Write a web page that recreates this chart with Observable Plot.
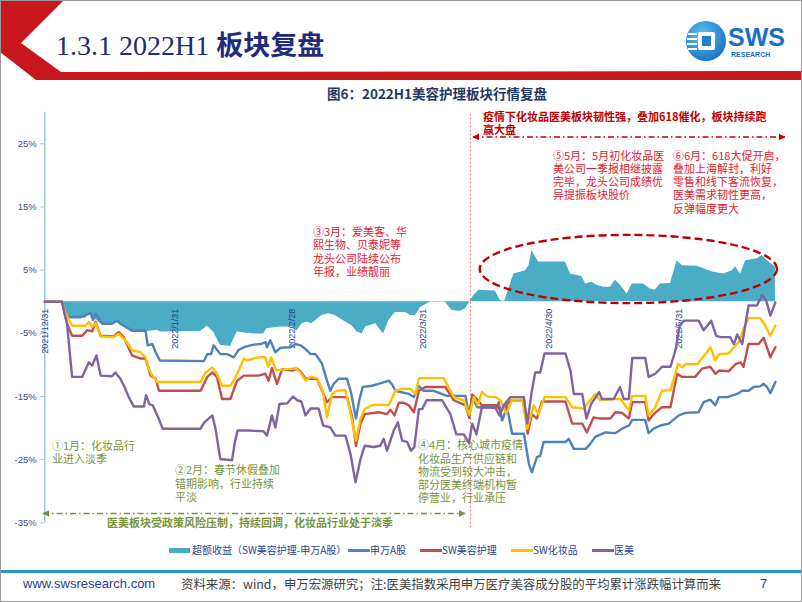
<!DOCTYPE html>
<html><head><meta charset="utf-8">
<script src="https://cdn.jsdelivr.net/npm/d3@7"></script>
<script src="https://cdn.jsdelivr.net/npm/@observablehq/plot@0.6"></script>
<style>
body{margin:0;background:#fff;}
#page{position:relative;width:802px;height:602px;overflow:hidden;background:#fff;font-family:"Liberation Sans",Arial,"Noto Sans CJK SC",sans-serif;}
.abs{position:absolute;white-space:nowrap;}
.ann{position:absolute;white-space:nowrap;font-family:"Noto Sans CJK SC",sans-serif;font-size:11px;line-height:13.3px;}
.red{color:#E5202E;}
.green{color:#77933C;}
.leg{position:absolute;top:543px;font-family:"Noto Sans CJK SC",sans-serif;font-size:10px;line-height:14px;color:#2B3F8C;white-space:nowrap;}
svg [aria-label="y-axis"] .tick line{stroke:#9DC3E6;}
svg [aria-label="y-axis tick"]{stroke:#9DC3E6;}
</style></head>
<body>
<div id="page">
  <svg class="abs" width="802" height="100" style="left:0;top:0">
    <polygon points="0,0 64,0 21,43 61,72 802,71 802,80 36,80 0,52" fill="#C8161D"/>
    <defs>
      <radialGradient id="lg" cx="40%" cy="35%" r="70%">
        <stop offset="0%" stop-color="#5FC3F0"/><stop offset="100%" stop-color="#1572C4"/>
      </radialGradient>
    </defs>
    <circle cx="706" cy="41" r="20" fill="url(#lg)"/>
    <rect x="698" y="32" width="17" height="18" rx="2" fill="#fff"/>
    <rect x="702" y="36" width="9" height="10" fill="#1E7FCC"/>
    <g stroke="#fff" stroke-width="2">
      <line x1="688" y1="34" x2="697" y2="34"/><line x1="687" y1="39" x2="697" y2="39"/>
      <line x1="687" y1="44" x2="697" y2="44"/><line x1="688" y1="49" x2="697" y2="49"/>
    </g>
    <text x="728" y="46" font-family="Liberation Sans, Arial" font-weight="bold" font-size="25" fill="#1B6EC2">SWS</text>
    <text x="731" y="57" font-family="Liberation Sans, Arial" font-weight="bold" font-size="7" fill="#1B6EC2">RESEARCH</text>
  </svg>
  <div class="abs" style="left:56px;top:27px;font-size:28px;line-height:34px;color:#1F2C7A;">
    <span style="font-family:'Liberation Serif','Times New Roman',serif;">1.3.1 2022H1 </span><span style="font-family:'Noto Sans CJK SC',sans-serif;font-weight:700;font-size:27px;">板块复盘</span>
  </div>
  <div class="abs" style="left:327px;top:84px;font-family:'Noto Sans CJK SC',sans-serif;font-weight:700;font-size:13.5px;line-height:18px;color:#1F3864;">图6：2022H1美容护理板块行情复盘</div>

  <div id="chart" class="abs" style="left:0;top:0"></div>

  <div class="ann" style="left:483px;top:110px;color:#C00000;font-weight:700;">疫情下化妆品医美板块韧性强，叠加618催化，板块持续跑<br>赢大盘</div>
  <div class="ann red" style="left:553px;top:148.5px;">⑤5月：5月初化妆品医<br>美公司一季报相继披露<br>完毕，龙头公司成绩优<br>异提振板块股价</div>
  <div class="ann red" style="left:673px;top:148.5px;">⑥6月：618大促开启，<br>叠加上海解封，利好<br>零售和线下客流恢复，<br>医美需求韧性更高，<br>反弹幅度更大</div>
  <div class="ann red" style="left:313px;top:225px;">③3月：爱美客、华<br>熙生物、贝泰妮等<br>龙头公司陆续公布<br>年报，业绩靓丽</div>
  <div class="ann green" style="left:52px;top:439px;">①1月：化妆品行<br>业进入淡季</div>
  <div class="ann green" style="left:175px;top:463.3px;">②2月：春节休假叠加<br>错期影响，行业持续<br>平淡</div>
  <div class="ann green" style="left:418px;top:438.3px;">④4月：核心城市疫情<br>化妆品生产供应链和<br>物流受到较大冲击，<br>部分医美终端机构暂<br>停营业，行业承压</div>
  <div class="ann green" style="left:107px;top:515.5px;font-weight:700;">医美板块受政策风险压制，持续回调，化妆品行业处于淡季</div>

  <div id="legend"></div>

  <div class="abs" style="left:0;top:570px;width:802px;height:3px;background:#2997C4;"></div>
  <div class="abs" style="left:23px;top:575px;font-size:13px;line-height:18px;color:#1F3C99;">www.swsresearch.com</div>
  <div class="abs" style="left:181px;top:575px;font-family:'Noto Sans CJK SC',sans-serif;font-size:12.4px;line-height:18px;color:#404040;">资料来源：wind，申万宏源研究；注:医美指数采用申万医疗美容成分股的平均累计涨跌幅计算而来</div>
  <div class="abs" style="left:760px;top:575px;font-size:13px;line-height:18px;color:#1F3C99;">7</div>
  <div class="abs" style="left:0;top:0;width:800px;height:600px;border:1px solid #9A9A9A;pointer-events:none;"></div>
</div>
<script>
// ---- data: [days since 2021-12-31, cumulative return %] ----
const excessReturn = [[0,0],[4.1,0],[5.3,-2.4],[9.7,-2.6],[10.5,-1.9],[13.3,-3.5],[16.0,-3.5],[17.2,-3.2],[21.2,-4.7],[24.4,-4.7],[26.8,-4.5],[27.6,-4.8],[37.1,-4.7],[38.7,-3.9],[40.2,-4.8],[41.8,-6.9],[44.2,-7.1],[45.8,-4.8],[49.8,-5.1],[52.1,-5.1],[52.9,-4.3],[56.1,-4.0],[58.9,-4.0],[60.1,-4.6],[61.3,-3.5],[62.5,-3.2],[63.6,-3.5],[66.0,-2.2],[67.6,-1.9],[69.2,-2.2],[71.6,-3.2],[73.2,-3.8],[74.4,-4.8],[75.6,-5.1],[76.4,-4.0],[78.8,-3.5],[80.7,-5.1],[81.9,-3.0],[83.5,-1.7],[85.9,-1.7],[87.1,-2.2],[88.3,-2.2],[89.5,-0.9],[91.8,-0.1],[95.4,-0.1],[97.0,-1.4],[99.0,-1.5],[100.2,-1.1],[101.4,0.2],[102.2,1.0],[103.4,1.8],[107.3,1.7],[108.5,0.2],[109.5,0.0],[110.9,2.8],[111.7,4.4],[114.5,4.9],[115.3,5.7],[116.0,8.1],[117.6,6.3],[124.0,6.3],[125.2,4.4],[127.9,4.0],[128.8,2.8],[130.3,3.1],[131.5,2.6],[133.1,2.3],[134.7,2.3],[135.9,3.4],[137.1,2.6],[138.7,1.2],[139.9,2.8],[142.6,2.8],[144.2,2.0],[145.4,1.8],[146.6,2.8],[149.0,2.9],[150.6,6.5],[151.8,5.7],[155.4,5.6],[157.0,5.2],[159.0,4.7],[161.7,4.4],[163.7,4.9],[164.5,5.5],[165.7,4.4],[166.9,6.5],[169.7,6.8],[170.8,7.3],[172.1,6.5],[174.0,5.5]];

const shenwanA = [[0,0],[4.1,0],[5.3,-2.2],[6.1,-2.45],[8.5,-2.45],[10.9,-1.8],[11.5,-2.9],[12.1,-1.8],[13.7,-3.5],[16.0,-3.5],[17.2,-3.0],[18.0,-3.5],[20.8,-4.6],[24.0,-4.6],[24.5,-6.9],[25.6,-6.7],[26.4,-8.0],[27.4,-9.3],[37.9,-9.4],[38.7,-8.3],[39.6,-8.3],[40.2,-6.9],[41.8,-8.3],[43.4,-8.3],[45.0,-8.8],[46.2,-7.6],[47.8,-7.1],[49.8,-6.8],[51.4,-6.7],[52.6,-6.4],[52.9,-7.2],[53.7,-6.1],[54.9,-8.0],[56.1,-7.3],[58.5,-7.2],[59.7,-6.7],[60.9,-6.9],[62.1,-7.5],[63.3,-8.3],[64.5,-8.3],[66.0,-9.8],[67.2,-12.5],[68.0,-14.1],[68.8,-13.0],[70.0,-12.2],[72.0,-12.2],[73.0,-14.6],[74.1,-18.5],[74.9,-15.6],[75.7,-13.5],[77.9,-13.3],[79.5,-13.0],[81.9,-12.5],[82.7,-13.1],[83.5,-14.1],[84.7,-14.3],[86.7,-14.6],[87.9,-15.1],[89.0,-13.3],[90.2,-14.1],[92.6,-14.1],[95.8,-14.9],[100.2,-14.9],[101.0,-18.0],[101.8,-15.1],[103.0,-16.7],[107.7,-16.7],[108.1,-15.9],[108.9,-18.8],[110.1,-16.7],[111.3,-20.9],[114.1,-20.9],[115.3,-25.7],[116.0,-27.0],[117.2,-24.6],[118.0,-24.4],[118.8,-22.2],[124.0,-22.2],[124.8,-21.7],[126.0,-23.3],[128.8,-23.3],[129.9,-22.5],[131.1,-21.4],[133.5,-20.7],[135.9,-20.8],[137.5,-20.1],[139.1,-19.6],[139.9,-18.7],[143.0,-18.7],[143.8,-20.8],[145.0,-20.1],[146.6,-19.6],[148.6,-19.3],[151.0,-18.0],[152.6,-17.6],[155.7,-17.5],[156.9,-15.9],[158.5,-15.5],[159.7,-16.4],[160.5,-15.1],[162.5,-15.1],[164.9,-14.6],[166.1,-14.1],[167.6,-14.1],[168.8,-13.5],[170.4,-13.4],[171.2,-13.0],[172.0,-13.5],[172.8,-14.5],[174.0,-12.7]];

const swBeauty = [[0,0],[4.1,0],[5.3,-3.5],[6.5,-5.4],[8.9,-5.4],[10.1,-4.5],[11.3,-4.7],[12.1,-3.2],[13.3,-5.4],[16.4,-5.5],[17.6,-4.8],[18.8,-5.6],[20.8,-8.5],[22.8,-9.0],[24.0,-9.0],[25.2,-11.7],[26.4,-12.2],[27.2,-14.1],[37.1,-14.1],[38.7,-11.9],[39.9,-11.2],[41.0,-11.9],[42.2,-15.4],[44.2,-15.4],[45.8,-12.5],[47.4,-11.7],[50.9,-11.7],[52.5,-11.4],[53.3,-12.5],[54.1,-10.5],[55.3,-13.0],[56.5,-10.7],[58.9,-10.9],[60.1,-10.6],[61.1,-11.2],[62.1,-12.2],[64.8,-12.2],[66.2,-14.3],[67.2,-15.9],[68.4,-15.1],[72.0,-15.1],[73.2,-18.3],[74.1,-22.8],[75.2,-19.3],[76.2,-17.8],[79.5,-17.5],[81.5,-17.8],[82.3,-17.1],[83.3,-18.0],[84.3,-16.0],[85.5,-16.0],[86.7,-16.4],[87.9,-17.5],[89.1,-14.1],[90.6,-13.5],[95.4,-13.5],[97.4,-15.6],[100.2,-16.4],[101.1,-18.4],[101.8,-14.7],[103.0,-15.5],[104.1,-16.4],[107.7,-16.4],[108.5,-17.3],[109.9,-16.4],[111.1,-15.6],[114.1,-15.6],[115.0,-20.9],[116.0,-17.8],[117.2,-18.5],[118.4,-15.8],[124.0,-15.8],[125.6,-19.3],[128.0,-19.3],[129.1,-20.7],[130.7,-18.3],[132.3,-18.5],[134.7,-18.5],[135.9,-17.5],[137.5,-17.6],[139.1,-18.5],[139.9,-15.9],[143.0,-15.9],[143.8,-18.8],[145.0,-17.8],[147.0,-16.7],[149.0,-16.7],[150.6,-11.4],[151.8,-11.9],[154.9,-11.9],[156.5,-10.6],[158.5,-10.3],[159.7,-11.4],[160.6,-10.9],[162.9,-11.0],[164.5,-9.9],[165.7,-9.6],[166.4,-10.3],[167.6,-6.7],[170.0,-6.7],[171.2,-5.7],[172.8,-8.8],[174.0,-7.2]];

const swCosmetics = [[0,0],[4.1,0],[4.9,-1.7],[6.5,-3.8],[9.7,-3.8],[10.5,-3.2],[11.3,-4.0],[12.1,-3.4],[13.3,-5.5],[16.4,-5.6],[17.6,-5.1],[19.2,-6.1],[20.8,-7.7],[22.8,-8.0],[24.0,-8.8],[24.8,-10.6],[25.6,-11.7],[26.8,-12.7],[37.1,-12.7],[38.3,-11.2],[39.9,-10.4],[41.0,-11.4],[42.2,-13.3],[44.2,-13.3],[45.0,-12.5],[46.2,-10.9],[47.4,-9.0],[48.2,-9.3],[50.9,-8.8],[52.5,-8.8],[53.2,-10.3],[53.9,-8.8],[55.1,-10.9],[56.1,-10.8],[58.9,-10.6],[59.7,-10.5],[60.9,-11.2],[62.1,-12.5],[63.3,-11.9],[64.8,-12.1],[66.2,-14.1],[67.2,-18.3],[68.4,-14.6],[69.6,-14.1],[71.6,-14.0],[72.5,-16.7],[74.1,-22.0],[75.2,-18.5],[76.2,-17.0],[77.9,-16.4],[79.5,-16.3],[81.9,-16.4],[82.5,-15.6],[83.5,-14.1],[85.1,-13.8],[87.1,-13.8],[88.3,-14.6],[89.1,-12.1],[95.0,-12.1],[97.4,-15.1],[99.8,-15.6],[101.1,-17.9],[102.2,-15.1],[103.1,-16.4],[104.1,-14.3],[105.3,-15.0],[107.3,-15.1],[108.5,-15.6],[109.9,-17.8],[111.3,-15.5],[113.7,-15.5],[114.9,-20.1],[116.4,-16.4],[117.6,-17.8],[119.0,-15.1],[124.0,-15.1],[125.6,-16.7],[128.3,-16.9],[131.1,-14.6],[132.3,-15.6],[135.5,-15.4],[137.1,-15.4],[139.1,-17.2],[139.9,-14.9],[143.0,-14.9],[143.8,-18.0],[145.4,-16.7],[147.0,-14.1],[149.0,-14.0],[150.2,-11.4],[150.8,-9.8],[151.8,-10.4],[152.6,-9.9],[155.4,-9.9],[157.7,-8.0],[158.5,-7.2],[159.7,-9.3],[160.6,-8.3],[162.9,-8.2],[164.1,-7.2],[165.3,-6.4],[166.4,-4.3],[167.6,-2.6],[170.4,-2.6],[171.6,-3.8],[172.8,-5.4],[174.0,-3.8]];

const medAesthetics = [[0,0],[4.1,0],[4.7,-1.9],[5.3,-3.5],[6.5,-11.9],[8.9,-11.9],[10.5,-9.6],[11.3,-10.1],[12.3,-8.5],[13.3,-11.7],[16.0,-11.8],[16.8,-11.2],[17.9,-12.1],[19.0,-13.5],[20.0,-15.1],[21.2,-16.6],[23.6,-16.6],[24.1,-14.8],[24.9,-16.2],[25.7,-16.4],[26.8,-18.0],[28.1,-20.1],[37.1,-20.1],[38.0,-19.1],[39.9,-18.0],[40.6,-19.9],[41.8,-24.9],[44.6,-25.1],[45.2,-22.5],[45.9,-20.4],[48.2,-20.4],[52.1,-20.5],[52.9,-21.2],[54.1,-18.0],[54.9,-19.9],[55.9,-16.2],[57.7,-16.1],[59.1,-15.0],[60.1,-15.6],[61.1,-15.8],[62.1,-18.0],[63.3,-16.9],[65.2,-16.9],[66.3,-19.6],[68.0,-19.9],[69.2,-21.2],[71.6,-21.2],[72.8,-24.1],[74.0,-28.6],[75.2,-24.9],[76.2,-22.8],[78.3,-23.0],[79.9,-22.8],[80.7,-21.7],[81.5,-23.6],[83.1,-20.4],[84.1,-19.1],[85.1,-22.0],[86.3,-22.2],[87.2,-23.6],[88.0,-23.0],[89.1,-17.0],[89.9,-17.0],[90.9,-15.6],[94.6,-15.6],[96.6,-17.8],[98.0,-21.0],[99.8,-21.0],[101.0,-22.4],[101.8,-19.3],[102.8,-21.0],[104.1,-16.7],[107.3,-16.8],[108.3,-18.0],[109.3,-16.4],[110.9,-15.1],[114.1,-15.1],[114.9,-19.3],[116.0,-14.1],[116.8,-11.2],[118.0,-11.2],[119.0,-8.2],[124.0,-8.2],[125.2,-10.9],[126.0,-14.6],[128.0,-14.6],[129.0,-18.5],[130.1,-16.2],[132.0,-14.3],[132.7,-15.4],[135.5,-15.4],[137.0,-13.5],[137.9,-15.4],[139.1,-15.4],[139.9,-8.9],[143.0,-8.9],[143.8,-11.9],[145.4,-11.4],[147.0,-10.3],[149.0,-10.3],[150.2,-7.7],[151.2,-3.8],[152.2,-3.0],[155.7,-3.0],[156.9,-4.5],[158.7,-3.0],[159.9,-5.4],[161.0,-5.6],[163.2,-5.6],[164.1,-6.7],[164.9,-5.2],[166.1,-6.7],[167.6,-0.6],[169.6,-0.6],[170.8,1.0],[171.8,0.2],[172.8,-2.2],[174.0,-0.1]];

const yTicks = [-35, -25, -15, -5, 5, 15, 25];
const monthEndDays = [0, 31, 59, 90, 120, 151];
const monthEndLabels = ["2021/12/31", "2022/1/31", "2022/2/28", "2022/3/31", "2022/4/30", "2022/5/31"];
const legendNames = ["超额收益（SW美容护理-申万A股）", "申万A股", "SW美容护理", "SW化妆品", "医美"];

// ---- styles ----
const C = {area:"#4BACC6", blue:"#4F81BD", red:"#C0504D", yellow:"#FFC000", purple:"#8064A2"};
const start = Date.UTC(2021, 11, 31);
const toDate = d => new Date(start + d * 864e5);
const rows = arr => arr.map(([d, v]) => ({date: toDate(d), value: v}));

const chart = Plot.plot({
  width: 802, height: 602,
  marginTop: 111.7, marginBottom: 79.7, marginLeft: 44.3, marginRight: 27.1,
  style: {background: "transparent", fontFamily: "Liberation Sans, Arial, sans-serif", fontSize: "9.5px", color: "#3B4F96", overflow: "visible"},
  x: {type: "utc", domain: [toDate(0), toDate(174)], axis: null},
  y: {domain: [-35, 30], ticks: yTicks, tickFormat: d => d + "%", tickSize: 4, tickPadding: 4, label: null},
  marks: [
    Plot.ruleX([toDate(0)], {y1: -35, y2: 30, stroke: "#9DC3E6", strokeWidth: 1.5}),
    Plot.areaY(rows(excessReturn), {x: "date", y: "value", fill: C.area}),
    Plot.text(monthEndDays.map((d, i) => ({date: toDate(d), label: monthEndLabels[i]})),
      {x: "date", y: -1.1, text: "label", rotate: -90, textAnchor: "end", fill: "#1F3F99", fontSize: 9}),
    Plot.ruleX([toDate(101.4)], {y1: -35.8, y2: 30, stroke: "#D06060", strokeWidth: 1, strokeDasharray: "1.5,2.5"}),
    Plot.line(rows(shenwanA), {x: "date", y: "value", stroke: C.blue, strokeWidth: 2.4}),
    Plot.line(rows(swBeauty), {x: "date", y: "value", stroke: C.red, strokeWidth: 2.4}),
    Plot.line(rows(swCosmetics), {x: "date", y: "value", stroke: C.yellow, strokeWidth: 2.4}),
    Plot.line(rows(medAesthetics), {x: "date", y: "value", stroke: C.purple, strokeWidth: 2.4})
  ]
});
document.getElementById("chart").appendChild(chart);

// ---- annotation overlay positioned through the plot's scales ----
const sx = chart.scale("x"), sy = chart.scale("y");
const px = d => sx.range[0] + (toDate(d) - sx.domain[0]) / (sx.domain[1] - sx.domain[0]) * (sx.range[1] - sx.range[0]);
const py = v => sy.range[0] + (v - sy.domain[0]) / (sy.domain[1] - sy.domain[0]) * (sy.range[1] - sy.range[0]);
const svg = d3.select(chart);
const defs = svg.append("defs");
function marker(id, color, dir) {
  defs.append("marker").attr("id", id).attr("viewBox", "0 0 10 10").attr("refX", dir > 0 ? 9 : 1).attr("refY", 5)
    .attr("markerWidth", 7).attr("markerHeight", 7).attr("markerUnits", "userSpaceOnUse").attr("orient", "auto")
    .append("path").attr("d", dir > 0 ? "M0,0L10,5L0,10Z" : "M10,0L0,5L10,10Z").attr("fill", color);
}
marker("rE", "#C00000", 1); marker("rS", "#C00000", -1);
marker("gE", "#77933C", 1); marker("gS", "#77933C", -1);
// ellipse around the positive excess-return stretch
const ec = {d: 139.1, v: 5.1, dd: 35.4, dv: 5.4};
svg.append("ellipse").attr("cx", px(ec.d)).attr("cy", py(ec.v))
  .attr("rx", px(ec.d + ec.dd) - px(ec.d)).attr("ry", py(ec.v - ec.dv) - py(ec.v))
  .attr("fill", "none").attr("stroke", "#C00000").attr("stroke-width", 2.4).attr("stroke-dasharray", "8,4");
// red span arrow (Apr-Jun)
svg.append("line").attr("x1", px(102.1)).attr("x2", px(176.4)).attr("y1", py(26.0)).attr("y2", py(26.0))
  .attr("stroke", "#C00000").attr("stroke-width", 1.4).attr("stroke-dasharray", "6,3,1.5,3")
  .attr("marker-start", "url(#rS)").attr("marker-end", "url(#rE)");
// green span arrow (Jan-Mar)
svg.append("line").attr("x1", px(-0.3)).attr("x2", px(100.2)).attr("y1", py(-33.6)).attr("y2", py(-33.6))
  .attr("stroke", "#77933C").attr("stroke-width", 1.4).attr("stroke-dasharray", "6,3,1.5,3")
  .attr("marker-start", "url(#gS)").attr("marker-end", "url(#gE)");

// ---- legend ----
const legendX = [169, 348, 420, 511, 592];
const legendColors = [C.area, C.blue, C.red, C.yellow, C.purple];
const lg = document.getElementById("legend");
legendNames.forEach((name, i) => {
  const sw = document.createElement("div");
  sw.style.cssText = `position:absolute;left:${legendX[i]}px;top:${i === 0 ? 548 : 549}px;width:${i === 0 ? 21 : 22}px;height:${i === 0 ? 5 : 2.5}px;background:${legendColors[i]};`;
  lg.appendChild(sw);
  const t = document.createElement("div");
  t.className = "leg";
  t.style.left = (legendX[i] + (i === 0 ? 23 : 22)) + "px";
  t.textContent = name;
  lg.appendChild(t);
});
</script>
</body></html>
